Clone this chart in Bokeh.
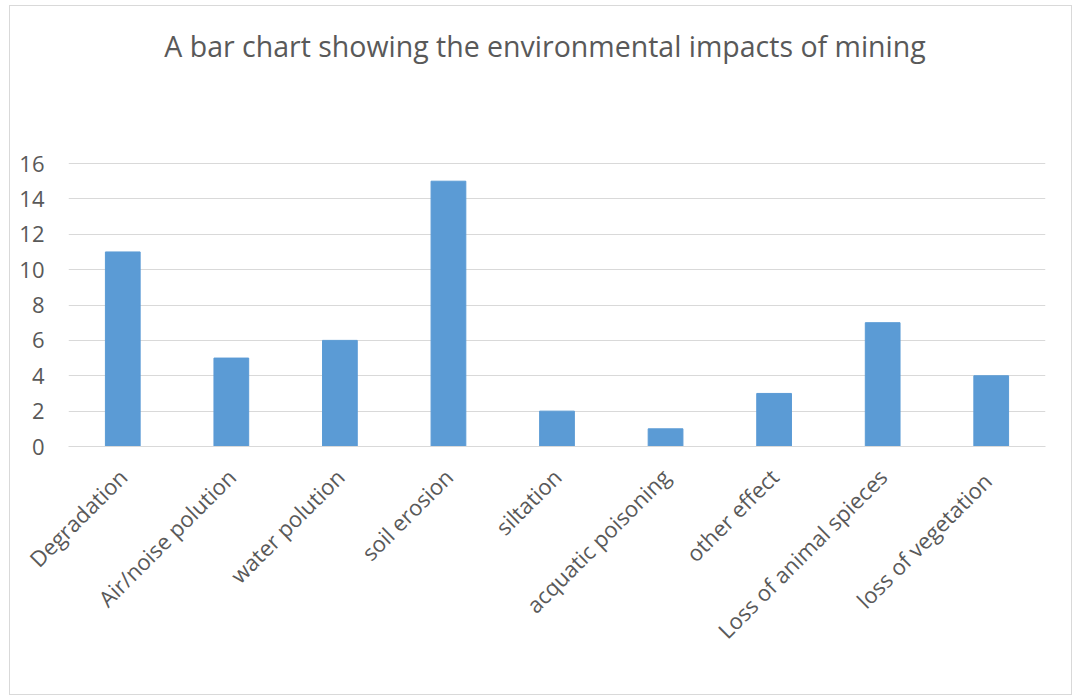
import math
from bokeh.plotting import figure
from bokeh.models import Range1d, FactorRange, FixedTicker, Label
from bokeh.embed import file_html
from bokeh.resources import INLINE

categories = ["Degradation", "Air/noise polution", "water polution", "soil erosion",
              "siltation", "acquatic poisoning", "other effect",
              "Loss of animal spieces", "loss of  vegetation"]
values = [11, 5, 6, 15, 2, 1, 3, 7, 4]
y_ticks = [0, 2, 4, 6, 8, 10, 12, 14, 16]
title_text = "A bar chart showing the environmental impacts of mining"

FONT = "Open Sans"
TXT = "#595959"
GRID = "#d9d9d9"
BAR = "#5b9bd5"

# The value axis spans 0..16 over 283 px; the frame is extended upward (no ticks/grid
# there) so the chart title can sit inside the frame as a text label.
AXIS_MAX = 16
AXIS_PX = 283
TOP_BORDER = 20
FRAME_PX = 690 - TOP_BORDER - 250
y_top = AXIS_MAX * FRAME_PX / AXIS_PX
title_y = AXIS_MAX * 401 / AXIS_PX
title_x = len(categories) / 2  # middle of the categorical axis

p = figure(width=1063, height=690, output_backend="svg", toolbar_location=None,
           x_range=FactorRange(*categories), y_range=Range1d(0, y_top),
           min_border_left=58, min_border_right=28, min_border_top=TOP_BORDER,
           min_border_bottom=250, tools="")
p.margin = (5, 0, 0, 9)
p.styles = {"border": "1px solid #d9d9d9"}
p.outline_line_color = None

p.vbar(x=categories, top=values, width=0.32, color=BAR)

p.xgrid.grid_line_color = None
p.ygrid.grid_line_color = GRID
p.ygrid.grid_line_width = 1
p.yaxis.ticker = FixedTicker(ticks=y_ticks)
p.yaxis.axis_line_color = None
p.yaxis.major_tick_line_color = None
p.yaxis.minor_tick_line_color = None
p.yaxis.major_label_standoff = 18
p.yaxis.major_label_text_font = FONT
p.yaxis.major_label_text_font_size = "22px"
p.yaxis.major_label_text_color = TXT

p.xaxis.axis_line_color = GRID
p.xaxis.major_tick_line_color = None
p.xaxis.minor_tick_line_color = None
p.xaxis.major_label_orientation = math.pi / 4
p.xaxis.major_label_standoff = 20
p.xaxis.major_label_text_font = FONT
p.xaxis.major_label_text_font_size = "22px"
p.xaxis.major_label_text_color = TXT

title = Label(x=title_x, y=title_y, x_offset=-12, text=title_text,
              text_align="center", text_baseline="middle",
              text_font=FONT, text_font_size="28.5px", text_color=TXT)
p.add_layout(title)

open("out.html", "w").write(file_html(p, INLINE))
